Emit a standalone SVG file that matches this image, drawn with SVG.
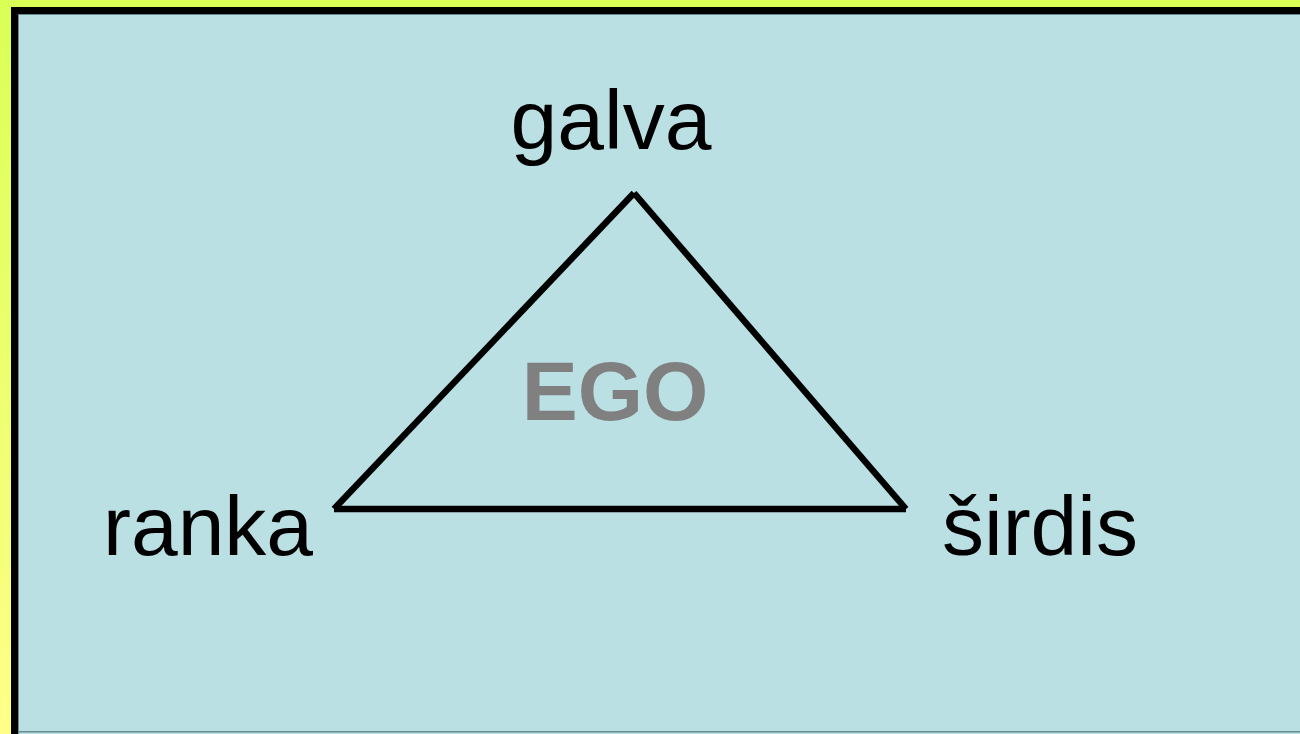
<svg xmlns="http://www.w3.org/2000/svg" width="1300" height="734" viewBox="0 0 1300 734">
  <defs>
    <linearGradient id="bg" x1="0" y1="0" x2="0" y2="1">
      <stop offset="0" stop-color="#DAFF55"/>
      <stop offset="1" stop-color="#FFFF88"/>
    </linearGradient>
    <style>
      .lbl { font-family: "Liberation Sans", Arial, sans-serif; font-size: 84px; fill: #000; text-anchor: middle; }
      .ego { font-family: "Liberation Sans", Arial, sans-serif; font-size: 84px; font-weight: bold; fill: #808080; text-anchor: middle; }
      .edge { stroke: #000; stroke-width: 6.5; stroke-linecap: butt; fill: none; }
    </style>
  </defs>
  <rect x="0" y="0" width="1300" height="734" fill="url(#bg)"/>
  <rect x="14.5" y="10.5" width="1300" height="730" fill="#BBE0E3" stroke="#000" stroke-width="7"/>
  <rect x="18" y="14" width="1282" height="1" fill="#6a8a90"/>
  <rect x="18" y="14" width="1" height="720" fill="#6a8a90"/>
  <rect x="18" y="731" width="1282" height="1.5" fill="#6a8a90"/>
  <g id="connectors">
    <line class="edge" x1="634" y1="193" x2="334" y2="509"/>
    <line class="edge" x1="634" y1="193" x2="906" y2="509"/>
    <line class="edge" x1="334" y1="509" x2="906" y2="509"/>
  </g>
  <g id="galva"><text class="lbl" x="611" y="149">galva</text></g>
  <g id="ranka"><text class="lbl" x="208" y="555">ranka</text></g>
  <g id="sirdis"><text class="lbl" x="1040" y="555">širdis</text></g>
  <g id="ego"><text class="ego" x="615" y="420">EGO</text></g>
</svg>
